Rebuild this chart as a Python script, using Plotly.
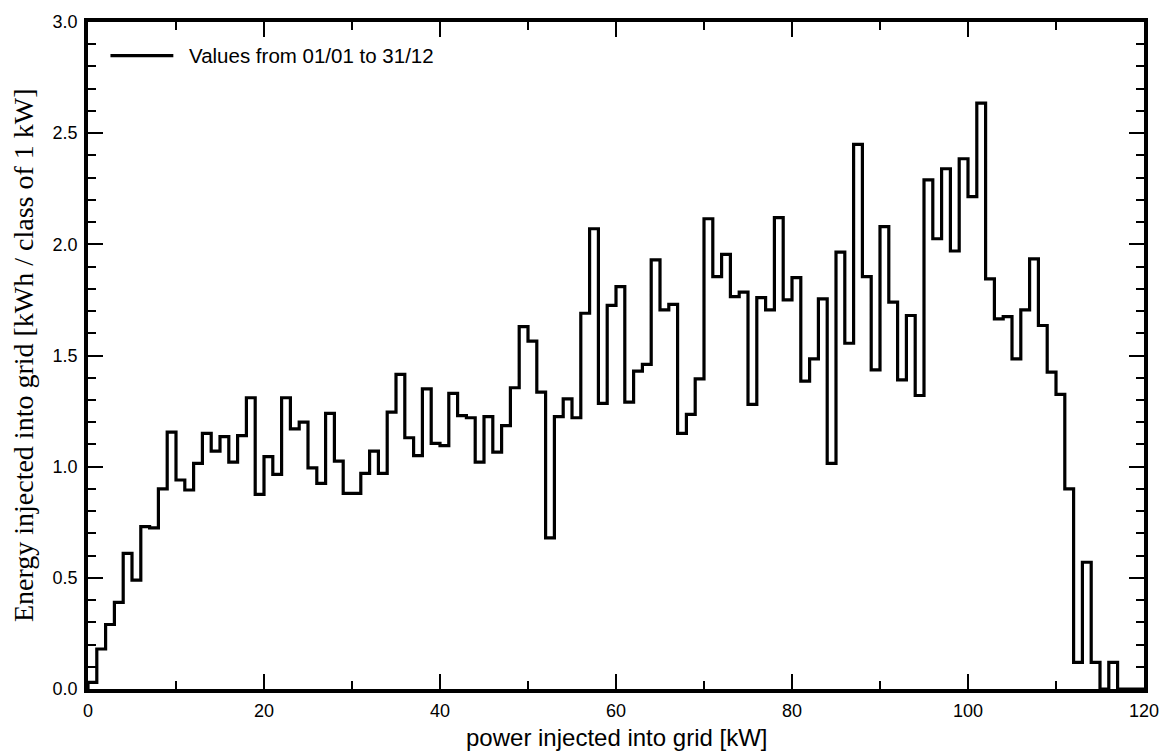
import plotly.graph_objects as go

# Energy fed into the grid per 1 kW power class, over the whole year (01/01 - 31/12)
bin_start_kw = list(range(0, 117))
energy_kwh = [
    0.03, 0.18, 0.29, 0.39, 0.61, 0.49, 0.73, 0.725, 0.90, 1.155,
    0.94, 0.895, 1.015, 1.15, 1.07, 1.135, 1.02, 1.14, 1.31, 0.875,
    1.045, 0.965, 1.31, 1.17, 1.20, 0.995, 0.925, 1.24, 1.025, 0.88,
    0.88, 0.97, 1.07, 0.97, 1.245, 1.415, 1.13, 1.05, 1.35, 1.105,
    1.095, 1.33, 1.23, 1.22, 1.02, 1.225, 1.065, 1.185, 1.355, 1.63,
    1.565, 1.335, 0.68, 1.225, 1.305, 1.22, 1.69, 2.07, 1.285, 1.725,
    1.81, 1.29, 1.43, 1.46, 1.93, 1.705, 1.73, 1.15, 1.235, 1.395,
    2.115, 1.855, 1.955, 1.765, 1.785, 1.28, 1.76, 1.705, 2.12, 1.75,
    1.85, 1.385, 1.485, 1.755, 1.015, 1.965, 1.555, 2.45, 1.855, 1.435,
    2.08, 1.74, 1.39, 1.68, 1.32, 2.29, 2.025, 2.34, 1.97, 2.385,
    2.215, 2.635, 1.845, 1.665, 1.675, 1.485, 1.705, 1.935, 1.635, 1.425,
    1.325, 0.90, 0.12, 0.57, 0.12, 0.0, 0.12,
]
x_max_kw = 120
legend_label = "Values from 01/01 to 31/12"
x_title = "power injected into grid [kW]"
y_title = "Energy injected into grid [kWh / class of 1 kW]"

# step outline: rise from the axis, one step per class, drop back to zero after the last class
step_x = [bin_start_kw[0]] + bin_start_kw + [bin_start_kw[-1] + 1, x_max_kw]
step_y = [0.0] + energy_kwh + [0.0, 0.0]

fig = go.Figure()
fig.add_trace(go.Scatter(
    x=step_x, y=step_y, mode="lines", line_shape="hv",
    line=dict(color="black", width=3.2), showlegend=False, hoverinfo="skip",
))

sans = "Liberation Sans, Arial, sans-serif"
serif = "Liberation Serif, Times New Roman, serif"

axis_common = dict(
    showline=True, linecolor="black", linewidth=3.5, mirror="ticks",
    ticks="inside", tickcolor="black", tickwidth=2, ticklen=15,
    showgrid=False, zeroline=False, ticklabelstandoff=3,
    tickfont=dict(family=sans, size=18, color="black"),
)

fig.update_xaxes(
    range=[0, x_max_kw], dtick=20, tick0=0,
    minor=dict(dtick=10, ticks="inside", ticklen=8, tickwidth=1.5, tickcolor="black", showgrid=False),
    **axis_common,
)
fig.update_yaxes(
    range=[0, 3], dtick=0.5, tick0=0, tickformat=".1f",
    minor=dict(dtick=0.1, ticks="inside", ticklen=8, tickwidth=1.5, tickcolor="black", showgrid=False),
    **axis_common,
)

L, R, T, B = 87.5, 25.5, 14, 61.5
W, H = 1171, 751
pw, ph = W - L - R, H - T - B

def px_x(p):
    return (p - L) / pw

def px_y(p):
    return (H - B - p) / ph

fig.update_layout(
    width=W, height=H,
    margin=dict(l=L, r=R, t=T, b=B, pad=0),
    paper_bgcolor="white", plot_bgcolor="white",
    showlegend=False,
    shapes=[dict(
        type="line", xref="paper", yref="paper",
        x0=px_x(110), x1=px_x(173), y0=px_y(48), y1=px_y(48),
        line=dict(color="black", width=3.2),
    )],
    annotations=[
        dict(text=legend_label, xref="paper", yref="paper",
             x=px_x(187), y=px_y(48), xanchor="left", yanchor="middle",
             showarrow=False, font=dict(family=sans, size=20.5, color="black")),
        dict(text=x_title, xref="paper", yref="paper",
             x=0.5, y=px_y(739), xanchor="center", yanchor="middle",
             showarrow=False, font=dict(family=sans, size=24, color="black")),
        dict(text=y_title, xref="paper", yref="paper",
             x=px_x(23), y=0.5, xanchor="center", yanchor="middle", textangle=-90,
             showarrow=False, font=dict(family=serif, size=28, color="black")),
    ],
)

fig.write_html("out.html")
